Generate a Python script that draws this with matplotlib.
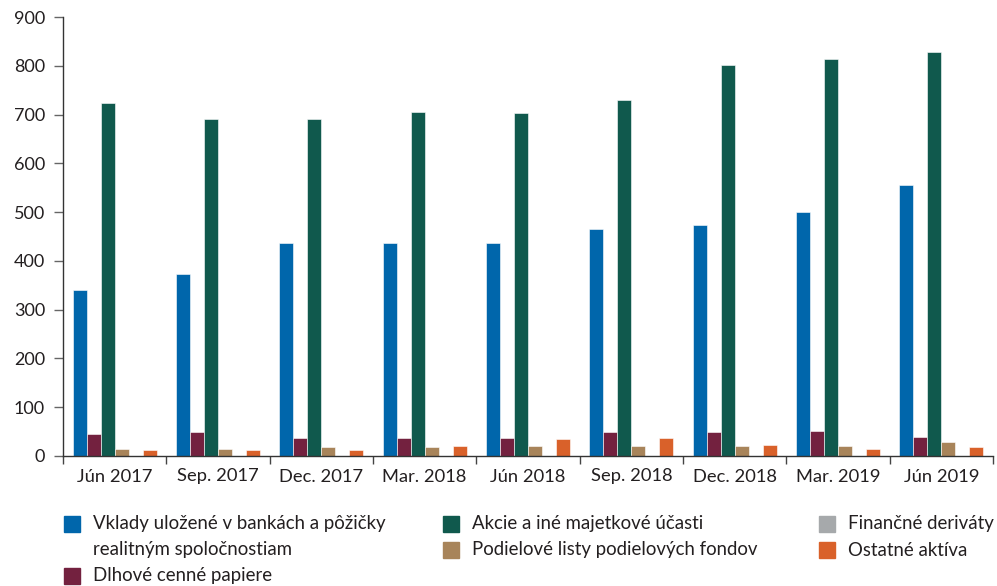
import matplotlib
matplotlib.use("Agg")
import matplotlib.pyplot as plt
from matplotlib.patches import Rectangle
import numpy as np

plt.rcParams['font.family'] = ['Lato', 'DejaVu Sans']

categories = ["Jún 2017", "Sep. 2017", "Dec. 2017", "Mar. 2018", "Jún 2018",
              "Sep. 2018", "Dec. 2018", "Mar. 2019", "Jún 2019"]

vklady = [340, 373, 437, 436, 437, 466, 474, 500, 556]
dlhove = [45, 50, 37, 37, 37, 50, 50, 52, 39]
akcie = [724, 691, 690, 705, 704, 730, 801, 814, 829]
podielove = [15, 15, 18, 18, 20, 20, 21, 21, 28]
derivaty = [0, 0, 0, 0, 0, 0, 0, 0, 0]
ostatne = [12, 13, 12, 21, 34, 37, 23, 15, 18]

series_names = ["Vklady uložené v bankách a pôžičky\nrealitným spoločnostiam",
                "Dlhové cenné papiere",
                "Akcie a iné majetkové účasti",
                "Podielové listy podielových fondov",
                "Finančné deriváty",
                "Ostatné aktíva"]
series_values = [vklady, dlhove, akcie, podielove, derivaty, ostatne]
colors = ["#0066AB", "#73213F", "#10594D", "#A8845A", "#A6A9AB", "#D9612A"]

yticks = [0, 100, 200, 300, 400, 500, 600, 700, 800, 900]

fig = plt.figure(figsize=(9.97, 5.86), dpi=100)
ax = fig.add_axes([63/997, 1-456/586, 930/997, 439/586])

x = np.arange(len(categories))
w = 0.135
for i, (vals, c) in enumerate(zip(series_values, colors)):
    ax.bar(x + (i - 2.5) * w, vals, width=w, color=c, edgecolor="white",
           linewidth=0.4, zorder=2)

ax.set_xlim(-0.5, len(categories) - 0.5)
ax.set_ylim(0, 900)
ax.set_yticks(yticks)
ax.set_yticklabels([str(v) for v in yticks], fontsize=13, color="#231F20")

ax.set_xticks(np.arange(len(categories) + 1) - 0.5)
ax.set_xticklabels([])
ax.set_xticks(x, minor=True)
ax.set_xticklabels(categories, minor=True, fontsize=13.2, color="#231F20")
ax.tick_params(axis="x", which="major", direction="out", length=6, width=1, color="#444444")
ax.tick_params(axis="x", which="minor", length=0, pad=9)
ax.tick_params(axis="y", direction="out", length=6.5, width=1, color="#666666", pad=6.5)

for s in ["top", "right"]:
    ax.spines[s].set_visible(False)
for s in ["left", "bottom"]:
    ax.spines[s].set_color("#333333")
    ax.spines[s].set_linewidth(1)

# manual legend
pos = [(64, 524), (64, 576), (443, 524), (443, 550), (819, 524), (819, 550)]
for (px, py), name, c in zip(pos, series_names, colors):
    fig.patches.append(Rectangle((px/997, 1-(py+8)/586), 16/997, 16/586,
                                 transform=fig.transFigure, color=c))
    lines = name.split("\n")
    for k, ln in enumerate(lines):
        fig.text((px+29)/997, 1-(py+k*26)/586, ln, fontsize=13.4,
                 color="#231F20", va="center", ha="left")

fig.savefig("out.png", dpi=100)
